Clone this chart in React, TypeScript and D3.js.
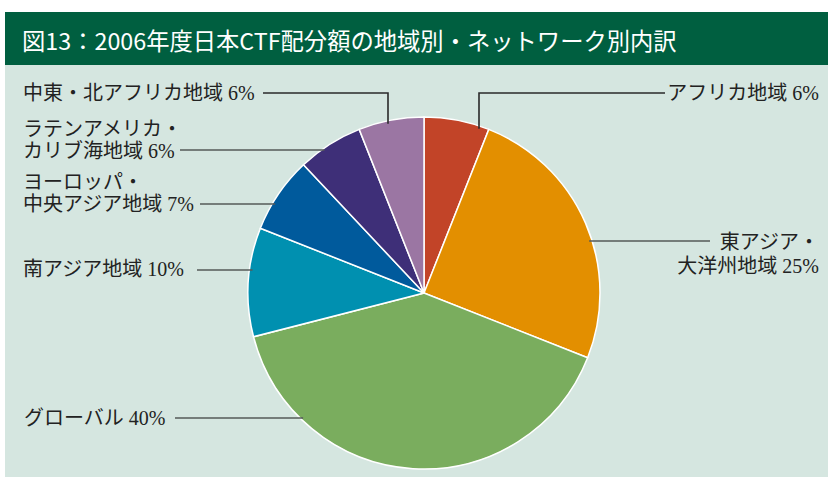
import React from "react";
import * as d3 from "d3";

const title = "図13：2006年度日本CTF配分額の地域別・ネットワーク別内訳";

const regions = [
  ["アフリカ地域 6%"],
  ["東アジア・", "大洋州地域 25%"],
  ["グローバル 40%"],
  ["南アジア地域 10%"],
  ["ヨーロッパ・", "中央アジア地域 7%"],
  ["ラテンアメリカ・", "カリブ海地域 6%"],
  ["中東・北アフリカ地域 6%"],
];
const shares = [6, 25, 40, 10, 7, 6, 6];
const colors = ["#c24428", "#e38f00", "#7aad5e", "#0090b0", "#005a9c", "#3e2f78", "#9b76a3"];

// label layout: text anchor x, first-line y, leader y, leader start x, optional elbow x
const layout = [
  { anchor: "end", x: 819, y: 93, ly: 93, lx: 665, elbowX: 479 },
  { anchor: "end", x: 819, y: 242, ly: 241, lx: 710 },
  { anchor: "start", x: 24, y: 418, ly: 418, lx: 175 },
  { anchor: "start", x: 23, y: 269, ly: 270, lx: 197 },
  { anchor: "start", x: 23, y: 182, ly: 204, lx: 200 },
  { anchor: "start", x: 23, y: 129, ly: 150, lx: 180 },
  { anchor: "start", x: 23, y: 93, ly: 93, lx: 263, elbowX: 388 },
];

const W = 828;
const H = 479;
const cx = 424;
const cy = 293;
const R = 176;

export default function App() {
  const pie = d3.pie<number>().sort(null).value((d) => d)(shares);
  const arc = d3.arc<d3.PieArcDatum<number>>().innerRadius(0).outerRadius(R);
  const labelFont = "'Liberation Serif', 'Noto Sans CJK JP', serif";

  return (
    <svg
      width={W}
      height={H}
      style={{ position: "fixed", left: 0, top: 0, background: "#ffffff" }}
    >
      <rect x={5} y={64} width={W - 5} height={413} fill="#d5e6e0" />
      <rect x={5} y={12} width={W - 5} height={53} fill="#005f40" />
      <text
        x={22}
        y={40}
        dominantBaseline="central"
        fill="#ffffff"
        fontSize={23.3}
        fontFamily="'Noto Sans CJK JP', sans-serif"
      >
        {title}
      </text>

      <g transform={`translate(${cx},${cy})`}>
        {pie.map((p, i) => (
          <path key={i} d={arc(p) || ""} fill={colors[i]} stroke="#ffffff" strokeWidth={1.5} />
        ))}
      </g>

      {pie.map((p, i) => {
        const L = layout[i];
        const lines = regions[i];
        let path: string;
        if (L.elbowX !== undefined) {
          const dx = L.elbowX - cx;
          const yEnd = cy - Math.sqrt(R * R - dx * dx) + 3;
          path = `M${L.lx},${L.ly}H${L.elbowX}V${yEnd}`;
        } else {
          const dy = L.ly - cy;
          const side = L.anchor === "end" ? 1 : -1;
          const xEdge = cx + side * (Math.sqrt(R * R - dy * dy) - 3);
          path = `M${L.lx},${L.ly}H${xEdge}`;
        }
        const lineH = lines.length > 1 ? (L.anchor === "end" ? 24 : 22) : 0;
        return (
          <g key={i}>
            <path d={path} fill="none" stroke={i === 0 || i === 6 ? "#2a2a2a" : "#555a58"} strokeWidth={1.6} />
            {lines.map((t, j) => (
              <text
                key={j}
                x={L.x}
                y={L.y + j * lineH}
                textAnchor={L.anchor as any}
                dominantBaseline="central"
                fontSize={20}
                fill="#222222"
                fontFamily={labelFont}
              >
                {t}
              </text>
            ))}
          </g>
        );
      })}
    </svg>
  );
}
